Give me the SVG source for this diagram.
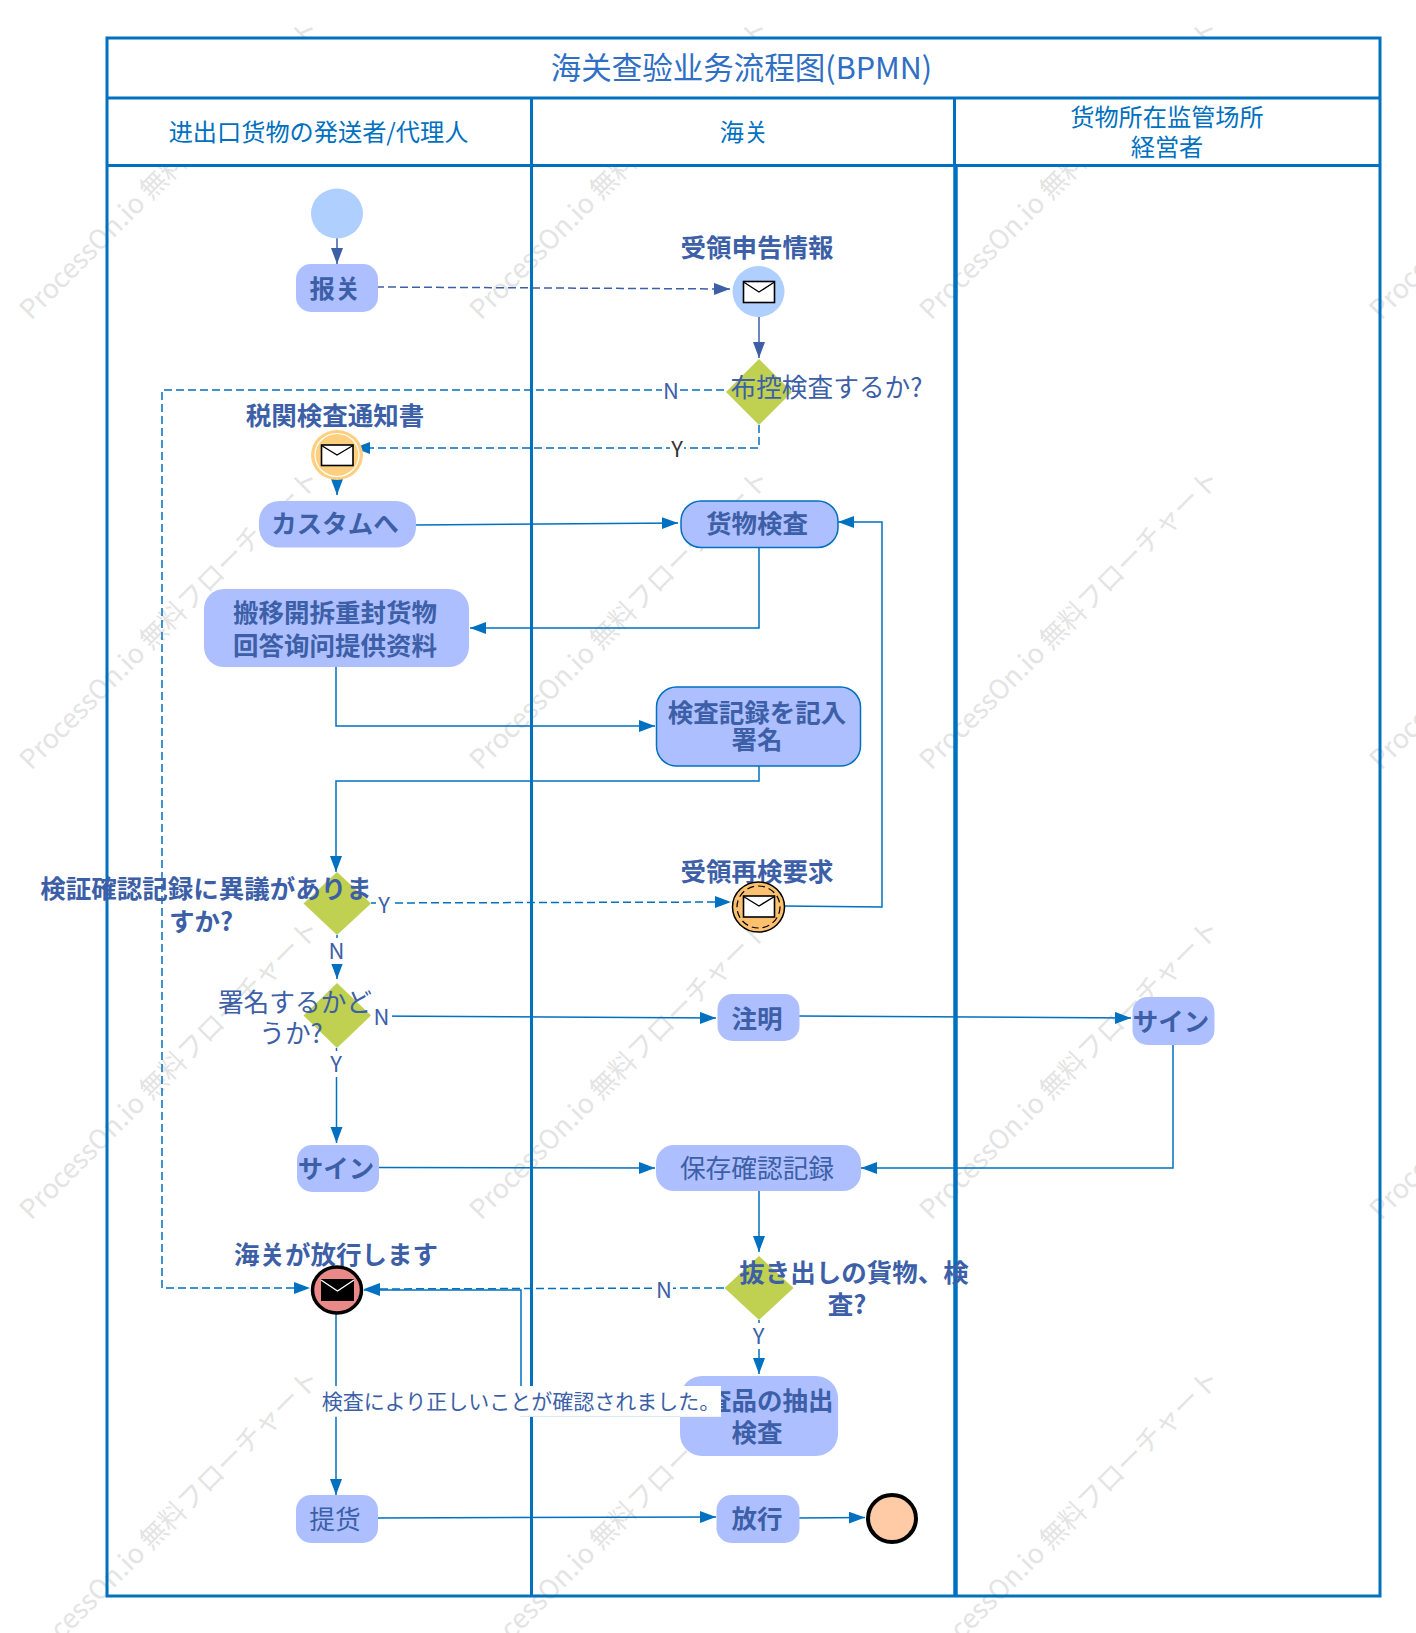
<svg xmlns="http://www.w3.org/2000/svg" width="1416" height="1633" viewBox="0 0 1416 1633">
<style>
text{font-family:"Noto Sans CJK JP","Noto Sans CJK SC",sans-serif;text-anchor:middle;dominant-baseline:central;fill:#3d5fa8}
.b{font-weight:700;font-size:25.500px}
.r{font-size:25.700px}
.lane{fill:#0070c0;font-size:24.200px}
.wm{fill:#e4e4e4;font-size:26.800px;text-anchor:start;dominant-baseline:auto}
.lb{font-size:22px}
.task{fill:#aebfff}
.task2{fill:#aebfff;stroke:#0070c0;stroke-width:1.5}
.gw{fill:#c0d050}
.c{fill:none;stroke:#0070c0;stroke-width:1.5;marker-end:url(#a)}
.p{fill:none;stroke:#3d5fa8;stroke-width:1.5;marker-end:url(#ap)}
.n{fill:none;stroke:#0070c0;stroke-width:1.5}
.d{stroke-dasharray:8 4}
.frame{fill:none;stroke:#0070c0;stroke-width:3}
.env{fill:#fff;stroke:#000;stroke-width:1.6}
.flap{fill:none;stroke:#000;stroke-width:1.4}
</style>
<defs>
<marker id="a" markerUnits="userSpaceOnUse" markerWidth="17" markerHeight="13" refX="16" refY="6" orient="auto"><path d="M0 0L16 6L0 12z" fill="#0070c0"/></marker>
<marker id="ap" markerUnits="userSpaceOnUse" markerWidth="17" markerHeight="13" refX="16" refY="6" orient="auto"><path d="M0 0L16 6L0 12z" fill="#3d5fa8"/></marker>
<text id="w" class="wm">ProcessOn.io 無料フローチャート</text>
</defs>
<rect width="1416" height="1633" fill="#fff"/>
<g id="watermark">
<use href="#w" transform="translate(31 321) rotate(-45)"/><use href="#w" transform="translate(481 321) rotate(-45)"/><use href="#w" transform="translate(931 321) rotate(-45)"/><use href="#w" transform="translate(1381 321) rotate(-45)"/>
<use href="#w" transform="translate(31 771) rotate(-45)"/><use href="#w" transform="translate(481 771) rotate(-45)"/><use href="#w" transform="translate(931 771) rotate(-45)"/><use href="#w" transform="translate(1381 771) rotate(-45)"/>
<use href="#w" transform="translate(31 1221) rotate(-45)"/><use href="#w" transform="translate(481 1221) rotate(-45)"/><use href="#w" transform="translate(931 1221) rotate(-45)"/><use href="#w" transform="translate(1381 1221) rotate(-45)"/>
<use href="#w" transform="translate(31 1671) rotate(-45)"/><use href="#w" transform="translate(481 1671) rotate(-45)"/><use href="#w" transform="translate(931 1671) rotate(-45)"/>
</g>
<g id="pool">
<rect x="107" y="38" width="1273" height="127" fill="#fff"/>
<rect class="frame" x="107" y="38" width="1273" height="1558"/>
<path class="frame" d="M107 98H1380M107 165.500H1380M531.500 98V1596M954.500 98V165"/>
<path d="M955.500 165V1596" fill="none" stroke="#0070c0" stroke-width="4.500"/>
<text x="741.500" y="66" font-size="30.500" style="fill:#2f6fc4;font-family:'Noto Sans CJK SC',sans-serif">海关查验业务流程图(BPMN)</text>
<text class="lane" x="318.500" y="130" style="font-family:'Noto Sans CJK SC',sans-serif">进出口货物の発送者/代理人</text>
<text class="lane" x="744" y="130">海关</text>
<text class="lane" x="1167" y="115" style="font-family:'Noto Sans CJK SC',sans-serif">货物所在监管场所</text>
<text class="lane" x="1167" y="145">経営者</text>
</g>
<g id="connectors">
<path class="p" d="M337 238V264"/>
<path class="p d" d="M376 287L730 289"/>
<path class="p" d="M759 317V358"/>
<path class="n d" d="M724 390H162V1288H310" marker-end="url(#a)"/>
<path class="c d" d="M759 425V448H354"/>
<path class="c" d="M337 480V495"/>
<path class="c" d="M415 525L678 523"/>
<path class="c" d="M759 547V628H470"/>
<path class="c" d="M336 667V726H655"/>
<path class="c" d="M759 766V781H336V872"/>
<path class="c d" d="M371 903L731 902"/>
<path class="c" d="M784 906L882 907V522H838"/>
<path class="c" d="M337 935V979"/>
<path class="c" d="M371 1016L716 1018"/>
<path class="c" d="M799 1016L1131 1018"/>
<path class="c" d="M1173 1045V1168H861"/>
<path class="c" d="M336.500 1048V1143"/>
<path class="c" d="M378 1167.500L655 1168"/>
<path class="c" d="M759 1191V1252"/>
<path class="c d" d="M724 1288L364 1289"/>
<path class="c" d="M680 1416H521V1290H364"/>
<path class="c" d="M759 1320V1374"/>
<path class="c" d="M336 1314V1495"/>
<path class="c" d="M378 1518L716 1517"/>
<path class="c" d="M799 1518L865 1517.500"/>
</g>
<g id="start"><ellipse cx="337" cy="213.500" rx="26" ry="25" fill="#aecfff"/></g>
<g id="declare"><rect class="task" x="296" y="264" width="82" height="48" rx="15"/><text class="b" x="335" y="286">报关</text></g>
<g id="receive-info"><text class="b" x="757" y="245">受領申告情報</text><ellipse cx="758.500" cy="291.500" rx="26" ry="25.500" fill="#aecfff"/><rect class="env" x="743.500" y="281.500" width="31" height="21"/><path class="flap" d="M743.500 282L759 292L774.500 282"/></g>
<g id="gw-control"><path class="gw" d="M759 359L792 392L759 425L726 392z"/><text class="r" x="826.500" y="385">布控検査するか?</text></g>
<g id="notice"><text class="b" x="335" y="413">税関検査通知書</text><ellipse cx="337" cy="455" rx="26" ry="25" fill="#ffcf80"/><ellipse cx="337" cy="455" rx="22" ry="21.500" fill="none" stroke="#fff" stroke-width="1.200"/><rect class="env" x="321.500" y="445" width="31.500" height="20.500"/><path class="flap" d="M321.500 445.500L337 455L353 445.500"/></g>
<g id="to-customs"><rect class="task" x="259" y="501" width="157" height="46.500" rx="20"/><text class="b" x="335" y="521">カスタムへ</text></g>
<g id="inspect"><rect class="task2" x="681" y="501" width="157" height="46.500" rx="20"/><text class="b" x="757" y="521">货物検査</text></g>
<g id="move"><rect class="task" x="204" y="589" width="265" height="78" rx="20"/><text class="b" x="335" y="610">搬移開拆重封货物</text><text class="b" x="335" y="643">回答询问提供资料</text></g>
<g id="record"><rect class="task2" x="656.500" y="687" width="204" height="79" rx="20"/><text class="b" x="757" y="710">検査記録を記入</text><text class="b" x="757" y="737">署名</text></g>
<g id="gw-dispute"><path class="gw" d="M337 872L371 903.500L337 935L303.500 903.500z"/><text class="b" x="206" y="886">検証確認記録に異議がありま</text><text class="b" x="201" y="919">すか?</text></g>
<g id="recheck"><text class="b" x="757" y="869">受領再検要求</text><ellipse cx="758.500" cy="907" rx="26" ry="25" fill="#fcc06f" stroke="#000" stroke-width="1.500"/><ellipse cx="758.500" cy="907" rx="21.500" ry="21" fill="none" stroke="#000" stroke-width="1.200" stroke-dasharray="7 4"/><rect class="env" x="743.500" y="896" width="31" height="21"/><path class="flap" d="M743.500 896.500L759 906L774.500 896.500"/></g>
<g id="gw-sign"><path class="gw" d="M337 983L371 1015.500L337 1048L303.500 1015.500z"/><text class="r" x="295" y="1000">署名するかど</text><text class="r" x="291" y="1031">うか?</text></g>
<g id="note"><rect class="task" x="717.500" y="994" width="82" height="47" rx="15"/><text class="b" x="757" y="1016">注明</text></g>
<g id="sign-right"><rect class="task" x="1132.500" y="997" width="82" height="48" rx="15"/><text class="b" x="1171" y="1019">サイン</text></g>
<g id="sign-left"><rect class="task" x="297" y="1145" width="82" height="47" rx="15"/><text class="b" x="336" y="1166">サイン</text></g>
<g id="save"><rect class="task" x="656" y="1145" width="205" height="46" rx="18"/><text class="r" x="757" y="1166">保存確認記録</text></g>
<g id="gw-extract"><path class="gw" d="M759 1256L793.500 1288L759 1320L724.500 1288z"/><text class="b" x="854" y="1270">抜き出しの貨物、検</text><text class="b" x="847" y="1302">査?</text></g>
<g id="release-msg"><text class="b" x="336" y="1252">海关が放行します</text><ellipse cx="337" cy="1290" rx="24.500" ry="23" fill="#e98a88" stroke="#000" stroke-width="3.500"/><rect x="321" y="1279" width="33" height="22" fill="#000"/><path d="M321 1280L337.500 1291L354 1280" fill="none" stroke="#fff" stroke-width="1.400"/></g>
<g id="sample"><rect class="task" x="680" y="1376" width="158" height="80" rx="22"/><text class="b" x="757" y="1398">検査品の抽出</text><text class="b" x="757" y="1430">検査</text></g>
<g id="pickup"><rect class="task" x="296" y="1495" width="82" height="48" rx="15"/><text class="r" x="335" y="1517">提货</text></g>
<g id="release"><rect class="task" x="716.500" y="1495" width="83" height="48" rx="15"/><text class="b" x="757" y="1516">放行</text></g>
<g id="end"><ellipse cx="892" cy="1518.500" rx="24" ry="23.500" fill="#ffcba6" stroke="#000" stroke-width="4"/></g>
<g id="labels">
<rect x="662" y="378" width="18" height="24" fill="#fff"/><text class="lb" x="671" y="389">N</text>
<rect x="670" y="437" width="14" height="22" fill="#fff"/><text class="lb" x="677" y="447" style="fill:#333">Y</text>
<rect x="376" y="891" width="16" height="24" fill="#fff"/><text class="lb" x="384" y="903">Y</text>
<rect x="326" y="938" width="22" height="26" fill="#fff"/><text class="lb" x="336.500" y="949">N</text>
<rect x="371" y="1004" width="21" height="24" fill="#fff"/><text class="lb" x="381.500" y="1015">N</text>
<rect x="326" y="1051" width="20" height="26" fill="#fff"/><text class="lb" x="336" y="1062">Y</text>
<rect x="655" y="1277" width="18" height="24" fill="#fff"/><text class="lb" x="664" y="1288">N</text>
<rect x="748" y="1323" width="20" height="26" fill="#fff"/><text class="lb" x="758.500" y="1334">Y</text>
<rect x="321" y="1386" width="400" height="30.800" fill="#fff"/><text x="521" y="1400" font-size="21">検査により正しいことが確認されました。</text>
</g>
</svg>
